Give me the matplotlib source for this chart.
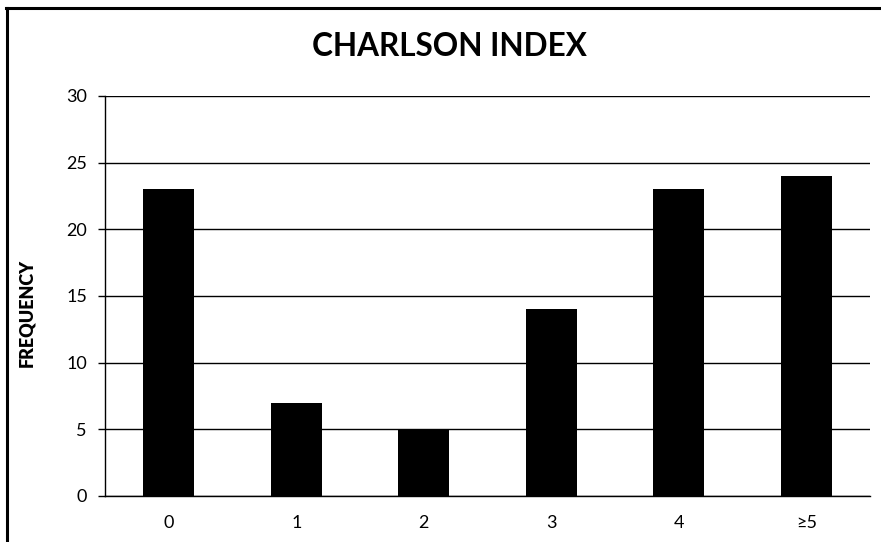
import matplotlib.pyplot as plt
from matplotlib.lines import Line2D

# Charlson index distribution
categories = ["0", "1", "2", "3", "4", "≥5"]
frequency = [23, 7, 5, 14, 23, 24]
y_ticks = [0, 5, 10, 15, 20, 25, 30]

plt.rcParams['font.family'] = ['Lato', 'DejaVu Sans']

W, H = 881, 542
fig = plt.figure(figsize=(W / 100, H / 100), dpi=100)
ax = fig.add_axes([105 / W, 46 / H, 765 / W, 400 / H])

x = range(len(categories))
ax.bar(x, frequency, width=0.4, color='black', zorder=3)

ax.set_xlim(-0.5, len(categories) - 0.5)
ax.set_ylim(0, 30)
ax.set_yticks(y_ticks)
ax.set_xticks(list(x))
ax.set_xticklabels(categories)
ax.yaxis.grid(True, color='black', linewidth=1)
ax.set_axisbelow(True)

for side in ['top', 'right']:
    ax.spines[side].set_visible(False)
for side in ['left', 'bottom']:
    ax.spines[side].set_color('black')
    ax.spines[side].set_linewidth(1)

ax.tick_params(axis='y', direction='out', length=5, width=1, pad=8, labelsize=13)
ax.tick_params(axis='x', length=0, pad=14, labelsize=13)

fig.text(27 / W, 1 - 313 / H, 'FREQUENCY', rotation=90, ha='center', va='center',
         fontsize=13, fontweight='heavy')

fig.text(449.5 / W, 1 - 47 / H, 'CHARLSON INDEX', ha='center', va='center',
         fontsize=22.7, fontweight='bold')

# chart frame (runs off the right and bottom edges)
fig.add_artist(Line2D([6.7 / W, 6.7 / W], [-0.1, 1 - 7.5 / H], color='black', linewidth=2.2))
fig.add_artist(Line2D([5.6 / W, 1.1], [1 - 7.5 / H, 1 - 7.5 / H], color='black', linewidth=2.2))

fig.savefig('out.png', dpi=100)
